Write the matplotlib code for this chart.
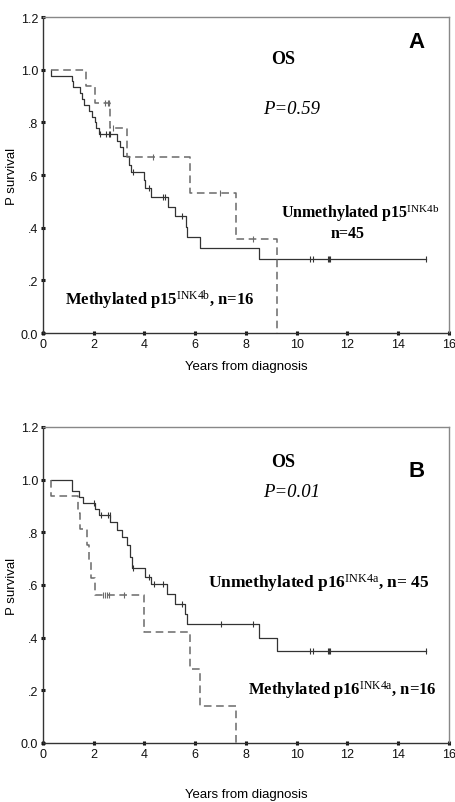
import numpy as np
import matplotlib.pyplot as plt

plt.rcParams['font.family'] = ['Liberation Sans', 'DejaVu Sans']
plt.rcParams['mathtext.fontset'] = 'custom'
plt.rcParams['mathtext.rm'] = 'Liberation Serif'
plt.rcParams['mathtext.bf'] = 'Liberation Serif:bold'
plt.rcParams['mathtext.it'] = 'Liberation Serif:italic'

# 面板A: p15 甲基化 / 非甲基化
a_unmeth_t = [0.3, 0.3, 1.13, 1.20, 1.45, 1.55, 1.62, 1.80, 1.95, 2.05, 2.10, 2.20,
              2.90, 3.03, 3.16, 3.40, 3.45, 3.98, 4.04, 4.24, 4.91, 5.20, 5.62,
              5.68, 6.18, 8.52, 15.1]
a_unmeth_s = [1.0, 0.978, 0.956, 0.933, 0.911, 0.889, 0.867, 0.844, 0.822, 0.800,
              0.778, 0.756, 0.731, 0.706, 0.672, 0.640, 0.611, 0.582, 0.551, 0.518,
              0.480, 0.446, 0.402, 0.364, 0.323, 0.281, 0.281]
a_unmeth_c = [2.25, 2.50, 2.60, 2.65, 3.55, 4.19, 4.73, 4.80, 5.49,
              10.51, 10.64, 11.22, 11.26, 11.30, 15.1]

a_meth_t = [0.3, 1.69, 2.05, 2.66, 3.32, 5.79, 7.59, 9.22, 9.22]
a_meth_s = [1.0, 0.9375, 0.875, 0.778, 0.667, 0.533, 0.356, 0.0, 0.0]
a_meth_c = [2.45, 2.55, 2.62, 2.75, 4.33, 6.99, 8.26]

# 面板B: p16 甲基化 / 非甲基化
b_unmeth_t = [0.3, 1.15, 1.43, 1.59, 2.05, 2.22, 2.66, 2.93, 3.10, 3.32, 3.43,
              3.49, 4.02, 4.24, 4.89, 5.20, 5.59, 5.68, 8.52, 9.22, 15.1]
b_unmeth_s = [1.0, 0.956, 0.933, 0.911, 0.889, 0.867, 0.839, 0.810, 0.781,
              0.752, 0.708, 0.665, 0.630, 0.605, 0.567, 0.529, 0.490, 0.450,
              0.400, 0.350, 0.350]
b_unmeth_c = [2.01, 2.30, 2.57, 2.64, 3.56, 4.19, 4.38, 4.74, 5.49, 7.0, 8.28,
              10.51, 10.64, 11.22, 11.26, 11.30, 15.1]

b_meth_t = [0.3, 0.3, 1.39, 1.46, 1.72, 1.80, 1.90, 2.05, 3.98, 5.79, 6.18, 7.6, 7.6]
b_meth_s = [1.0, 0.9375, 0.875, 0.8125, 0.75, 0.6875, 0.625, 0.5625, 0.422,
            0.281, 0.141, 0.0, 0.0]
b_meth_c = [2.38, 2.45, 2.52, 2.60, 3.19]

yticks = [0.0, 0.2, 0.4, 0.6, 0.8, 1.0, 1.2]
ytick_labels = ['0.0', '.2', '.4', '.6', '.8', '1.0', '1.2']
xticks = [0, 2, 4, 6, 8, 10, 12, 14, 16]

solid_col = '#333333'
dash_col = '#6a6a6a'


def draw_curve(ax, t, s, cens, color, dashed=False):
    line, = ax.step(t, s, where='post', color=color, lw=0.9)
    if dashed:
        line.set_linewidth(1.1)
        line.set_dashes([5, 3])
    t_arr = np.array(t)
    s_arr = np.array(s)
    idx = np.searchsorted(t_arr, cens, side='right') - 1
    ax.plot(cens, s_arr[idx], ls='none', marker='|', ms=5, mew=0.8, color=color)


def setup_axes(ax, label_pad):
    ax.set_xlim(0, 16)
    ax.set_ylim(0, 1.2)
    ax.set_xticks(xticks)
    ax.set_yticks(yticks)
    ax.set_yticklabels(ytick_labels)
    ax.tick_params(direction='inout', length=3, width=2.2, labelsize=9, pad=2,
                   colors='#111111')
    for side in ['left', 'bottom']:
        ax.spines[side].set_color('#333333')
        ax.spines[side].set_linewidth(1.0)
    for side in ['top', 'right']:
        ax.spines[side].set_color('#888888')
        ax.spines[side].set_linewidth(1.0)
    ax.set_ylabel('P survival', fontsize=9.5, labelpad=2)
    ax.set_xlabel('Years from diagnosis', fontsize=9.5, labelpad=label_pad)


fig = plt.figure(figsize=(4.56, 8.03), dpi=100)
ax1 = fig.add_axes([0.0943, 0.584, 0.890, 0.3935])
ax2 = fig.add_axes([0.0943, 0.0735, 0.890, 0.3935])

# 面板A
draw_curve(ax1, a_unmeth_t, a_unmeth_s, a_unmeth_c, solid_col)
draw_curve(ax1, a_meth_t, a_meth_s, a_meth_c, dash_col, dashed=True)
setup_axes(ax1, 7)
ax1.text(14.73, 1.106, 'A', fontsize=16, fontweight='bold', ha='center', va='center')
ax1.text(9.46, 1.042, 'OS', family='Liberation Serif', fontsize=13,
         fontweight='bold', ha='center', va='center')
ax1.text(9.81, 0.852, 'P=0.59', family='Liberation Serif', fontsize=13.5,
         style='italic', ha='center', va='center')
ax1.text(12.49, 0.460, r'Unmethylated p15$^{\mathrm{INK4b}}$', family='Liberation Serif',
         fontsize=11.5, fontweight='bold', ha='center', va='center')
ax1.text(12.0, 0.380, 'n=45', family='Liberation Serif', fontsize=11.5,
         fontweight='bold', ha='center', va='center')
ax1.text(0.87, 0.129, r'Methylated p15$^{\mathrm{INK4b}}$, n=16', family='Liberation Serif',
         fontsize=12, fontweight='bold', ha='left', va='center')

# 面板B
draw_curve(ax2, b_unmeth_t, b_unmeth_s, b_unmeth_c, solid_col)
draw_curve(ax2, b_meth_t, b_meth_s, b_meth_c, dash_col, dashed=True)
setup_axes(ax2, 20)
ax2.text(14.73, 1.034, 'B', fontsize=16, fontweight='bold', ha='center', va='center')
ax2.text(9.46, 1.068, 'OS', family='Liberation Serif', fontsize=13,
         fontweight='bold', ha='center', va='center')
ax2.text(9.81, 0.954, 'P=0.01', family='Liberation Serif', fontsize=13.5,
         style='italic', ha='center', va='center')
ax2.text(6.5, 0.612, r'Unmethylated p16$^{\mathrm{INK4a}}$, n= 45', family='Liberation Serif',
         fontsize=12.5, fontweight='bold', ha='left', va='center')
ax2.text(8.08, 0.205, r'Methylated p16$^{\mathrm{INK4a}}$, n=16', family='Liberation Serif',
         fontsize=12, fontweight='bold', ha='left', va='center')

fig.savefig('out.png', dpi=100)
